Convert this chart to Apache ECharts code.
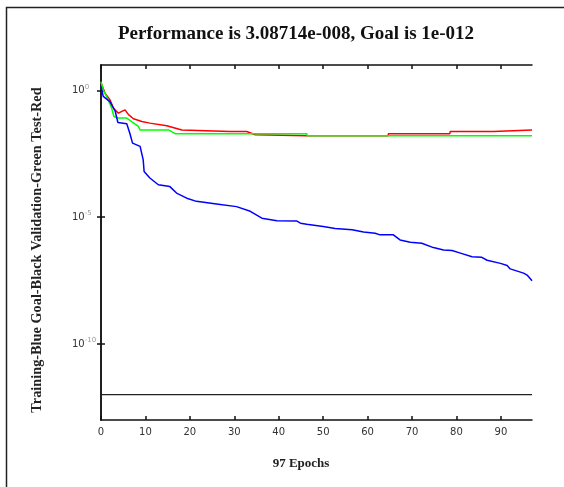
<!DOCTYPE html>
<html>
<head>
<meta charset="utf-8">
<script src="https://cdn.jsdelivr.net/npm/echarts@6/dist/echarts.min.js"></script>
<style>html,body{margin:0;padding:0;background:#fff}#c{width:564px;height:487px}</style>
</head>
<body>
<div id="c"></div>
<script>
var titleText = 'Performance is 3.08714e-008, Goal is 1e-012';
var xLabel = '97 Epochs';
var yLabel = 'Training-Blue Goal-Black Validation-Green Test-Red';
var xTicks = [0, 10, 20, 30, 40, 50, 60, 70, 80, 90];
var yTicks = [1e-10, 1e-5, 1];

var trainEpochs = [0, 0.5, 2, 3.2, 3.8, 5.8, 6.5, 7.1, 8.8, 9.5, 9.7, 11, 12.9, 15.5, 17, 19.3, 21.5, 26, 30.5, 33.6, 36.2, 39.6, 44, 44.9, 46.3, 50, 52.7, 56.5, 59.1, 61.7, 62.8, 65.8, 67.3, 69.6, 72.2, 74.8, 77.1, 79, 80.9, 83.5, 85.7, 86.9, 89.9, 91.4, 92.1, 95.1, 95.9, 97];
var trainPerf = [1.4, 0.58, 0.36, 0.15, 0.054, 0.048, 0.02, 0.0083, 0.0062, 0.0018, 6.3e-4, 3.5e-4, 1.9e-4, 1.6e-4, 8.9e-5, 5.6e-5, 4.2e-5, 3.3e-5, 2.6e-5, 1.7e-5, 9.1e-6, 7.2e-6, 7.1e-6, 5.8e-6, 5.2e-6, 4.3e-6, 3.6e-6, 3.2e-6, 2.6e-6, 2.3e-6, 2.0e-6, 2.0e-6, 1.26e-6, 1.02e-6, 9.3e-7, 6.3e-7, 5.1e-7, 4.8e-7, 3.8e-7, 2.75e-7, 2.6e-7, 2.0e-7, 1.5e-7, 1.23e-7, 9.1e-8, 6.2e-8, 5.2e-8, 3.09e-8];

var valEpochs = [0, 0.5, 1.6, 2.4, 2.9, 3.9, 5.8, 6.9, 8.4, 8.8, 15.2, 16.7, 46.3, 46.4, 97];
var valPerf = [2.2, 1.05, 0.43, 0.2, 0.093, 0.081, 0.081, 0.059, 0.038, 0.0275, 0.0275, 0.0195, 0.0195, 0.0162, 0.0162];

var testEpochs = [0, 0.9, 2, 2.8, 3.9, 4.7, 5.4, 6.2, 7.3, 9.2, 11, 14.8, 18.2, 29, 32.8, 34.7, 46.3, 64.6, 64.7, 78.5, 78.6, 88.3, 88.4, 97];
var testPerf = [2.0, 0.78, 0.43, 0.2, 0.126, 0.148, 0.17, 0.11, 0.076, 0.059, 0.051, 0.04, 0.0275, 0.024, 0.024, 0.0178, 0.0162, 0.0162, 0.0195, 0.0195, 0.024, 0.024, 0.0275, 0.0275];

var goalEpochs = [0, 97];
var goalPerf = [1e-12, 1e-12];

function pairs(xs, ys) { return xs.map(function (x, i) { return [x, ys[i]]; }); }

var chart = echarts.init(document.getElementById('c'), null, { renderer: 'canvas' });
var axisLine = { lineStyle: { color: '#111', width: 1.5 } };
function tick(vals) { return { inside: true, length: 4, customValues: vals, lineStyle: { color: '#111', width: 1.5 } }; }
chart.setOption({
  backgroundColor: '#fff',
  animation: false,
  grid: { left: 101, top: 65, right: 32, bottom: 67 },
  xAxis: [{
    type: 'value', min: 0, max: 97, position: 'bottom',
    axisLine: axisLine, axisTick: tick(xTicks), splitLine: { show: false },
    axisLabel: { margin: 7, fontFamily: 'DejaVu Sans', fontSize: 10, color: '#333', customValues: xTicks }
  }, {
    type: 'value', min: 0, max: 97, position: 'top',
    axisLine: axisLine, axisTick: tick(xTicks), axisLabel: { show: false, customValues: xTicks }, splitLine: { show: false }
  }],
  yAxis: [{
    type: 'log', logBase: 10, min: 1e-13, max: 10, position: 'left',
    axisLine: axisLine, axisTick: tick(yTicks), splitLine: { show: false },
    axisLabel: {
      customValues: yTicks, align: 'left', margin: 29,
      formatter: function (v) { return '{b|10}{s|' + Math.round(Math.log10(v)) + '}'; },
      rich: {
        b: { fontFamily: 'DejaVu Sans', fontSize: 10, color: '#333' },
        s: { fontFamily: 'DejaVu Sans', fontSize: 7, color: '#999', verticalAlign: 'top', padding: [0, 0, 7, 0] }
      }
    }
  }, {
    type: 'log', logBase: 10, min: 1e-13, max: 10, position: 'right',
    axisLine: axisLine, axisTick: tick(yTicks),
    axisLabel: { show: false, customValues: yTicks }, splitLine: { show: false }
  }],
  graphic: [{
    type: 'rect', shape: { x: 6.5, y: 7.5, width: 700, height: 700 }, silent: true,
    style: { fill: 'none', stroke: '#222', lineWidth: 1.5 }
  }, {
    type: 'text', x: 296, y: 34,
    style: { text: titleText, fontFamily: 'Liberation Serif', fontWeight: 'bold', fontSize: 19, fill: '#111', align: 'center', verticalAlign: 'middle' }
  }, {
    type: 'text', x: 301, y: 464,
    style: { text: xLabel, fontFamily: 'Liberation Serif', fontWeight: 'bold', fontSize: 13, fill: '#222', align: 'center', verticalAlign: 'middle' }
  }, {
    type: 'text', x: 37, y: 250, rotation: Math.PI / 2,
    style: { text: yLabel, fontFamily: 'Liberation Serif', fontWeight: 'bold', fontSize: 14.3, fill: '#222', align: 'center', verticalAlign: 'middle' }
  }],
  series: [
    { name: 'Goal', type: 'line', data: pairs(goalEpochs, goalPerf), showSymbol: false, lineStyle: { color: '#222', width: 1.2 }, z: 2 },
    { name: 'Test', type: 'line', data: pairs(testEpochs, testPerf), showSymbol: false, lineStyle: { color: '#ff0000', width: 1.5 }, z: 3 },
    { name: 'Validation', type: 'line', data: pairs(valEpochs, valPerf), showSymbol: false, lineStyle: { color: '#00ff00', width: 1.5 }, z: 4 },
    { name: 'Training', type: 'line', data: pairs(trainEpochs, trainPerf), showSymbol: false, lineStyle: { color: '#0000ff', width: 1.5 }, z: 5 }
  ]
});
</script>
</body>
</html>
